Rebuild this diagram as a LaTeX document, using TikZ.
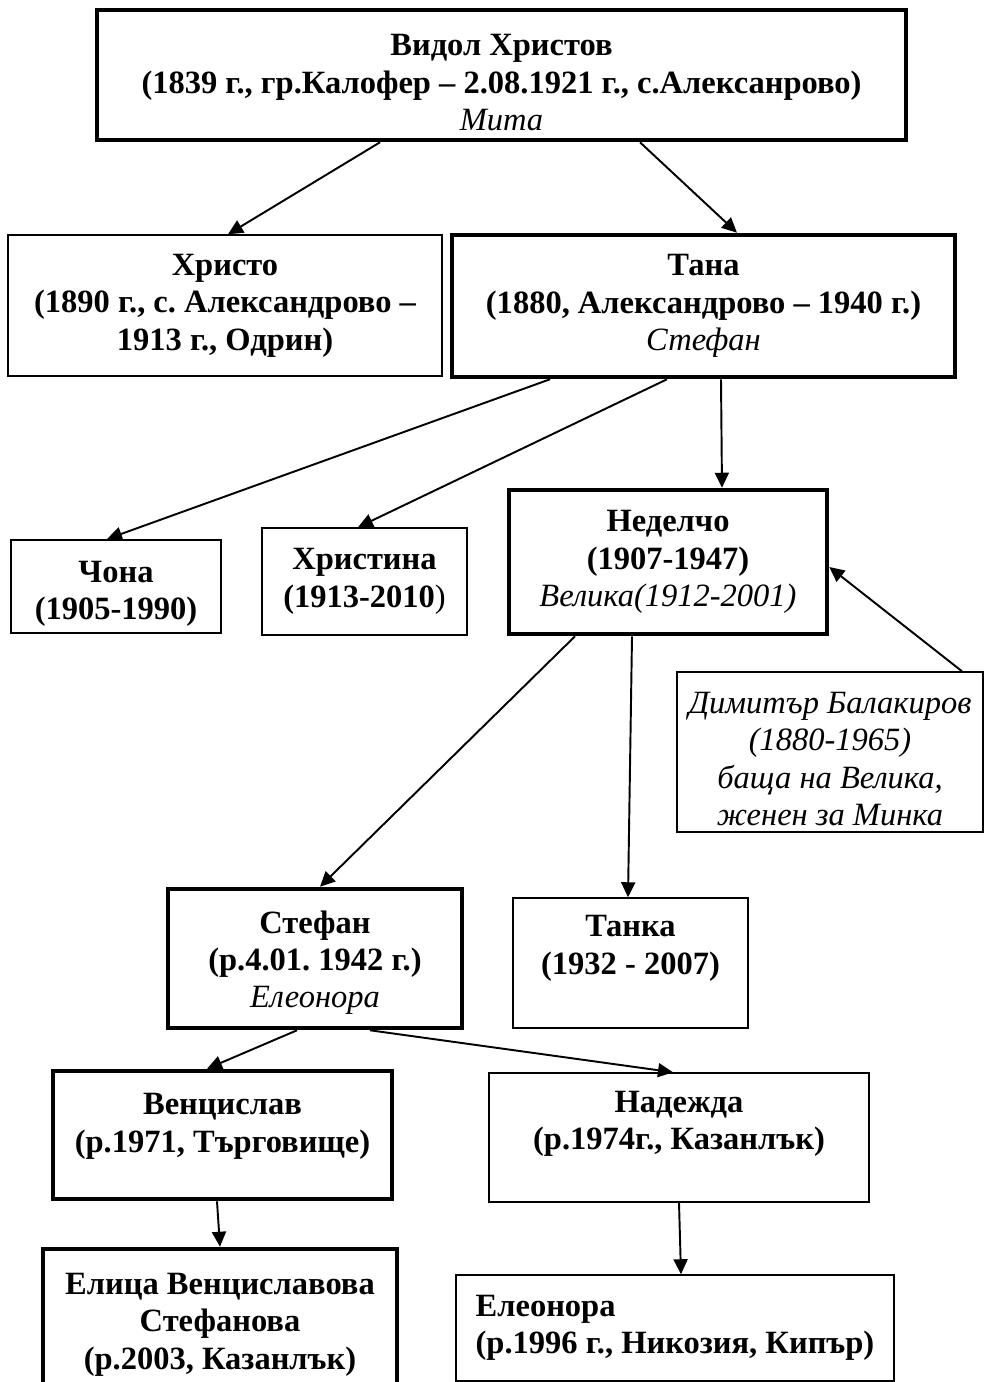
\documentclass[tikz,border=0pt]{standalone}
\usepackage{fontspec}
\setmainfont{Liberation Serif}
\usetikzlibrary{arrows.meta}
\frenchspacing

\begin{document}
\begin{tikzpicture}[x=0.02cm, y=-0.02cm,
  person/.style={draw, line width=0.85pt, align=center, inner sep=0pt,
                 font=\fontsize{18.5}{21.3}\selectfont\bfseries},
  main/.style={person, line width=2.6pt},
  spouse/.style={font=\fontsize{18.5}{21.3}\selectfont\itshape},
  lift/.style={text depth=#1},
  arr/.style={-{Triangle[length=3mm, width=2.8mm]}, line width=1.1pt},
]
  \useasboundingbox (0,0) rectangle (992,1382);

  % first generation
  \node[main, minimum width=16.18cm, minimum height=2.6cm] (vidol) at (501.5,75)
    {\rule{0pt}{0.73cm}Видол Христов\\(1839 г., гр.Калофер – 2.08.1921 г., с.Алексанрово)\\{\mdseries\itshape Мита}};

  % children of Vidol
  \node[person, minimum width=8.68cm, minimum height=2.82cm] (hristo) at (225,305.5)
    {Христо\\(1890 г., с. Александрово –\\1913 г., Одрин)};
  \node[main, minimum width=10.06cm, minimum height=2.84cm] (tana) at (703.5,306)
    {Тана\\(1880, Александрово – 1940 г.)\\{\mdseries\itshape Стефан}};

  % children of Tana
  \node[person, line width=1.1pt, minimum width=4.2cm, minimum height=1.86cm] (chona) at (116,586.5)
    {\rule{0pt}{0.71cm}Чона\\(1905-1990)};
  \node[person, minimum width=4.1cm, minimum height=2.14cm] (hristina) at (364.5,581.5)
    {Христина\\(1913-2010{\mdseries)}};
  \node[main, minimum width=6.36cm, minimum height=2.88cm] (nedelcho) at (668,562)
    {Неделчо\\(1907-1947)\\{\mdseries\itshape Велика(1912-2001)}};
  \node[person, spouse, minimum width=6.12cm, minimum height=3.2cm] (dimitar) at (830,752)
    {\rule{0pt}{0.7cm}Димитър Балакиров\\(1880-1965)\\баща на Велика,\\женен за Минка};

  % children of Nedelcho
  \node[main, minimum width=5.88cm, minimum height=2.78cm] (stefan) at (315,958.5)
    {\rule{0pt}{0.62cm}Стефан\\(р.4.01. 1942 г.)\\{\mdseries\itshape Елеонора}};
  \node[person, minimum width=4.7cm, minimum height=2.6cm, lift=0.72cm] (tanka) at (630.5,963)
    {Танка\\(1932 - 2007)};

  % children of Stefan
  \node[main, minimum width=6.78cm, minimum height=2.56cm, lift=0.48cm] (ventsi) at (222.5,1135)
    {Венцислав\\(р.1971, Търговище)};
  \node[person, minimum width=7.6cm, minimum height=2.58cm, lift=0.68cm] (nadezhda) at (679,1137.5)
    {Надежда\\(р.1974г., Казанлък)};

  % grandchildren
  \node[main, minimum width=7.08cm, minimum height=3.02cm] (elitsa) at (220,1324.5)
    {Елица Венциславова\\Стефанова\\(р.2003, Казанлък)};
  \node[person, align=left, minimum width=8.76cm, minimum height=2.12cm] (eleonora) at (675,1328)
    {Елеонора\\(р.1996 г., Никозия, Кипър)};

  \draw[arr] ([xshift=-2.43cm]vidol.south) -- ([xshift=0.06cm]hristo.north);
  \draw[arr] ([xshift=2.77cm]vidol.south) -- ([xshift=0.67cm]tana.north);
  \draw[arr] ([xshift=-3.07cm]tana.south) -- ([xshift=-0.18cm]chona.north);
  \draw[arr] ([xshift=-0.73cm]tana.south) -- ([xshift=-0.13cm]hristina.north);
  \draw[arr] ([xshift=0.35cm]tana.south) -- ([xshift=1.08cm]nedelcho.north);
  \draw[arr] ([xshift=2.64cm]dimitar.north) -- ([yshift=-0.1cm]nedelcho.east);
  \draw[arr] ([xshift=-1.86cm]nedelcho.south) -- ([xshift=0.1cm]stefan.north);
  \draw[arr] ([xshift=-0.72cm]nedelcho.south) -- ([xshift=-0.05cm]tanka.north);
  \draw[arr] ([xshift=-0.36cm]stefan.south) -- ([xshift=-0.31cm]ventsi.north);
  \draw[arr] ([xshift=1.1cm]stefan.south) -- ([xshift=-0.12cm]nadezhda.north);
  \draw[arr] ([xshift=-0.11cm]ventsi.south) -- (elitsa.north);
  \draw[arr] (nadezhda.south) -- ([xshift=0.12cm]eleonora.north);
\end{tikzpicture}
\end{document}
